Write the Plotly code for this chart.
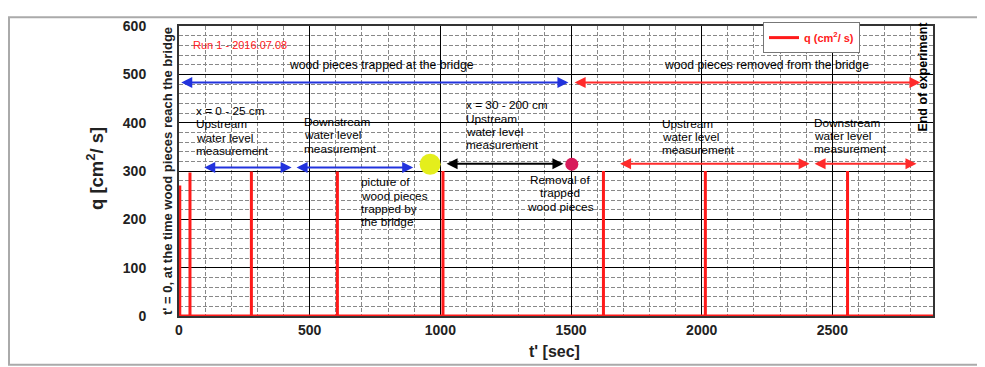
import plotly.graph_objects as go

# ---- data ----
spike_t = [3, 42, 277, 606, 1010, 1624, 2014, 2558]      # t' [sec]
spike_q = [270, 297, 299, 299, 300, 300, 300, 300]       # q [cm2/s]
t_end = 2885

x_ticks = [0, 500, 1000, 1500, 2000, 2500]
y_ticks = [0, 100, 200, 300, 400, 500, 600]

event_yellow = (961, 314)   # picture of wood pieces
event_removal = (1503, 314)  # removal of trapped wood pieces

# build the q time series (zero baseline with short spikes)
xs, ys = [0], [0]
for t, q in zip(spike_t, spike_q):
    xs += [t, t, t]
    ys += [0, q, 0]
xs.append(t_end)
ys.append(0)

FONT = "Liberation Sans, Arial, sans-serif"

# figure geometry (page body has an 8px margin)
W, H = 977, 359
ML, MR, MT, MB = 171, 52, 10, 51
PW, PH = W - ML - MR, H - MT - MB

fig = go.Figure()
fig.add_trace(go.Scatter(
    x=xs, y=ys, mode="lines", name="<b>q (cm<sup>2</sup>/ s)</b>",
    line=dict(color="#ff1a1a", width=3), showlegend=True,
))
fig.add_trace(go.Scatter(
    x=[event_yellow[0]], y=[event_yellow[1]], mode="markers",
    marker=dict(color="#e4ee1c", size=21, symbol="circle"), showlegend=False,
))
fig.add_trace(go.Scatter(
    x=[event_removal[0]], y=[event_removal[1]], mode="markers",
    marker=dict(color="#d81b5a", size=13, symbol="circle"), showlegend=False,
))

anns = []
TS = 11.8
DY = 12    # vertical text correction (q units)
SP = 27.5  # line spacing (q units)


def darrow(x0, x1, y, color):
    anns.append(dict(x=x1, y=y, ax=x0, ay=y, xref="x", yref="y", axref="x", ayref="y",
                     text="", showarrow=True, arrowhead=2, startarrowhead=2,
                     arrowside="end+start", arrowsize=1.1, startarrowsize=1.1,
                     arrowwidth=2, arrowcolor=color, standoff=0, startstandoff=0))


def txt(x, y, s, xanchor="left", size=TS, color="black", bold=False, angle=0, dy=DY):
    anns.append(dict(x=x, y=y + dy, xref="x", yref="y", text=(f"<b>{s}</b>" if bold else s),
                     showarrow=False, xanchor=xanchor, yanchor="middle", borderpad=0,
                     textangle=angle, font=dict(family=FONT, size=size, color=color)))


def block(x, yc, lines, xanchor="left"):
    n = len(lines)
    for i, s in enumerate(lines):
        txt(x, yc + ((n - 1) / 2 - i) * SP, s, xanchor=xanchor)


def px_x(px):  # window pixel -> paper x
    return (px - 8 - ML) / PW


def px_y(py):  # window pixel -> paper y
    return (H - MB - (py - 8)) / PH


BLUE = "#2233dd"
RED = "#ff2a2a"

darrow(3, 1490, 483, BLUE)
darrow(1508, 2837, 483, RED)
txt(773, 507, "wood pieces trapped at the bridge", xanchor="center", size=12.2)
txt(2247, 507, "wood pieces removed from the bridge", xanchor="center", size=12.2)
txt(48, 548, "Run 1 - 2016.07.08", size=11, color="#ff2020")

darrow(91, 431, 307, BLUE)
darrow(444, 896, 307, BLUE)
darrow(1018, 1471, 315, "black")
darrow(1682, 2413, 315, RED)
darrow(2426, 2822, 315, RED)

block(61, 371, ["x = 0 - 25 cm", "Upstream", "water level", "measurement"])
block(476, 362, ["Downstream", "water level", "measurement"])
block(1095, 382.5, ["x = 30 - 200 cm", "Upstream", "water level", "measurement"])
block(1844, 358, ["Upstream", "water level", "measurement"])
block(2426, 360, ["Downstream", "water level", "measurement"])
block(693, 223, ["picture of", "wood pieces", "trapped by", "the bridge"])
block(1459, 242, ["Removal of", "trapped", "wood pieces"], xanchor="center")
txt(2848, 496, "End of experiment", xanchor="center", size=12.5, bold=True, angle=-90, dy=0)

# axis titles / side label (paper coords)
anns.append(dict(x=px_x(95), y=px_y(165), xref="paper", yref="paper", text="<b>q [cm<sup>2</sup>/ s]</b>",
                 showarrow=False, textangle=-90, xanchor="center", yanchor="middle",
                 font=dict(family=FONT, size=18.5, color="#222")))
anns.append(dict(x=px_x(167), y=px_y(167), xref="paper", yref="paper",
                 text="<b>t' = 0, at the time wood pieces reach the bridge</b>",
                 showarrow=False, textangle=-90, xanchor="center", yanchor="middle",
                 font=dict(family=FONT, size=13, color="#222")))
anns.append(dict(x=px_x(554), y=px_y(352), xref="paper", yref="paper", text="<b>t' [sec]</b>",
                 showarrow=False, xanchor="center", yanchor="middle",
                 font=dict(family=FONT, size=16, color="#222")))

fig.update_layout(
    width=W, height=H,
    margin=dict(l=ML, r=MR, t=MT, b=MB),
    paper_bgcolor="white", plot_bgcolor="white",
    annotations=anns,
    showlegend=True,
    legend=dict(x=px_x(763), y=px_y(14), xanchor="left", yanchor="top",
                bgcolor="white", bordercolor="#777", borderwidth=1,
                font=dict(family=FONT, size=11, color="#ff2020"),
                itemwidth=30, tracegroupgap=0),
    shapes=[dict(type="rect", xref="paper", yref="paper",
                 x0=px_x(9), x1=px_x(995), y0=px_y(366), y1=px_y(9),
                 line=dict(color="#aaaaaa", width=2), layer="below")],
    font=dict(family=FONT),
)
fig.update_xaxes(
    range=[0, t_end], tickvals=x_ticks, showgrid=True, gridcolor="black", gridwidth=1,
    minor=dict(dtick=100, showgrid=True, gridcolor="#888", griddash="4px,2px", gridwidth=1),
    showline=True, linecolor="#333", linewidth=2, mirror=True, zeroline=False,
    tickfont=dict(family=FONT, size=14, color="#222", weight="bold"),
)
fig.update_yaxes(
    range=[0, 600], tickvals=y_ticks, showgrid=True, gridcolor="black", gridwidth=1,
    minor=dict(dtick=20, showgrid=True, gridcolor="#888", griddash="4px,2px", gridwidth=1),
    showline=True, linecolor="#333", linewidth=2, mirror=True, zeroline=False,
    tickfont=dict(family=FONT, size=14, color="#222", weight="bold"),
    ticklabelstandoff=28,
)

fig.write_html("out.html")
